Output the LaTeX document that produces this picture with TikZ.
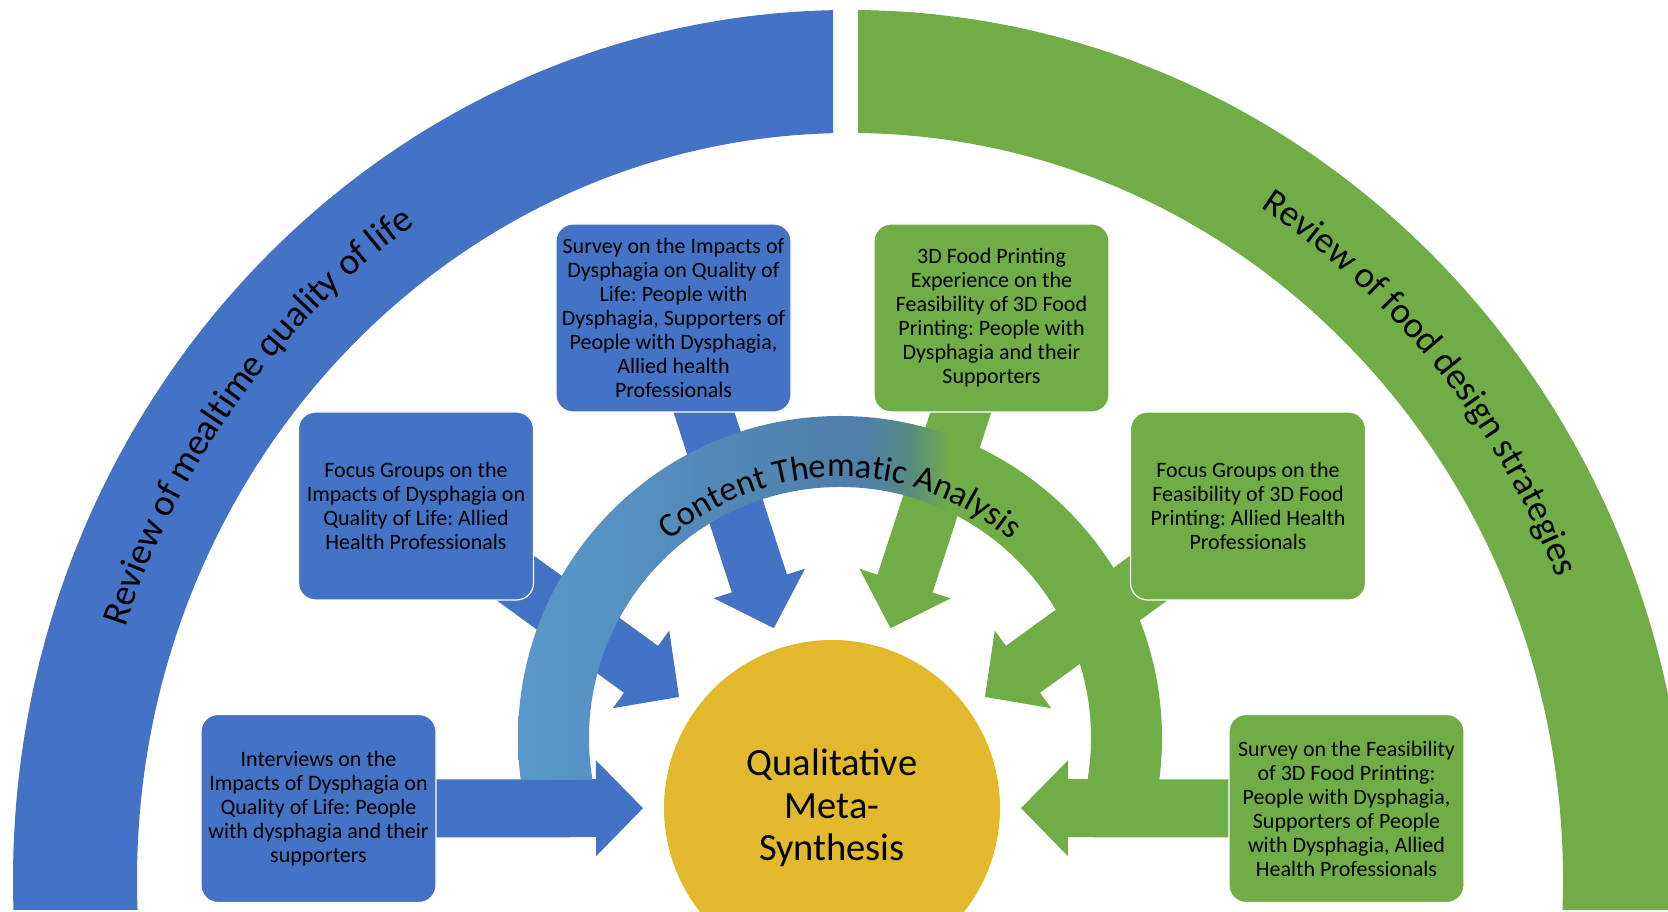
\documentclass[tikz,border=0pt]{standalone}
\usepackage{fontspec}
\setmainfont{Carlito}
\usetikzlibrary{calc,decorations.text}
\frenchspacing

\definecolor{accblue}{RGB}{68,114,196}
\definecolor{accgreen}{RGB}{112,173,71}
\definecolor{accgold}{RGB}{226,185,44}
\definecolor{ctaA}{RGB}{90,152,204}
\definecolor{ctaB}{RGB}{79,127,170}
\definecolor{ctaC}{RGB}{86,140,128}

% left-to-right colour run of the analysis band
\pgfdeclarehorizontalshading{ctashade}{100bp}{color(0bp)=(ctaA); color(25bp)=(ctaA); color(50bp)=(ctaB); color(52bp)=(ctaB); color(55.5bp)=(ctaC); color(58.5bp)=(accgreen); color(100bp)=(accgreen)}

\pgfdeclarelayer{back}
\pgfdeclarelayer{mid}
\pgfsetlayers{back,mid,main}

% block arrow from node #1 towards node #2, tip 189pt short of #2
\newcommand\blockarrow[3]{%
  \path ($(#2)!236pt!(#1)$) coordinate (hb) ($(#2)!189pt!(#1)$) coordinate (ht);
  \fill[#3] (ht) -- ($(hb)!48pt!90:(#2)$) -- ($(hb)!29pt!90:(#2)$)
    -- ($(#1)!29pt!90:(#2)$) -- ($(#1)!29pt!-90:(#2)$)
    -- ($(hb)!29pt!-90:(#2)$) -- ($(hb)!48pt!-90:(#2)$) -- cycle;}

\begin{document}
\begin{tikzpicture}[x=1pt,y=1pt,
  box/.style={rectangle, rounded corners=17pt, minimum width=235pt,
    minimum height=188pt, inner sep=0pt, draw=white, line width=1.2pt,
    align=center, font=\fontsize{22}{24}\selectfont},
  bluebox/.style={box, fill=accblue},
  greenbox/.style={box, fill=accgreen},
  bandtext/.style={decorate, decoration={text along path, text align=center, raise=#1}},
]
\useasboundingbox (0,0) rectangle (1668,912);

% centre and study boxes
\node[circle, fill=accgold, minimum size=336pt, inner sep=0pt, align=center,
  font=\fontsize{38.5}{42.5}\selectfont] (qms) at (832,104) {Qualitative\\Meta-\\Synthesis};

\node[bluebox] (svq) at (673.5,594) {Survey on the Impacts of\\Dysphagia on Quality of\\Life: People with\\Dysphagia, Supporters of\\People with Dysphagia,\\Allied health\\Professionals};
\node[bluebox] (fgq) at (416,406) {Focus Groups on the\\Impacts of Dysphagia on\\Quality of Life: Allied\\Health Professionals};
\node[bluebox] (ivq) at (318.5,103.5) {Interviews on the\\Impacts of Dysphagia on\\Quality of Life: People\\with dysphagia and their\\supporters};
\node[greenbox] (fpx) at (991.5,594) {3D Food Printing\\Experience on the\\Feasibility of 3D Food\\Printing: People with\\Dysphagia and their\\Supporters};
\node[greenbox] (fgf) at (1248,406) {Focus Groups on the\\Feasibility of 3D Food\\Printing: Allied Health\\Professionals};
\node[greenbox] (svf) at (1346.5,103.5) {Survey on the Feasibility\\of 3D Food Printing:\\People with Dysphagia,\\Supporters of People\\with Dysphagia, Allied\\Health Professionals};

\begin{pgfonlayer}{back}
  % outer review bands
  \begin{scope}
    \clip (0,2) rectangle (833,912);
    \fill[accblue, even odd rule] (850,32) ellipse [x radius=837pt, y radius=870pt]
      (850,32) ellipse [x radius=713pt, y radius=747pt];
  \end{scope}
  \begin{scope}
    \clip (858,2) rectangle (1668,912);
    \fill[accgreen, even odd rule] (850,32) ellipse [x radius=837pt, y radius=870pt]
      (850,32) ellipse [x radius=713pt, y radius=747pt];
  \end{scope}
  % arrows into the synthesis
  \blockarrow{svq}{qms}{accblue}
  \blockarrow{fgq}{qms}{accblue}
  \blockarrow{ivq}{qms}{accblue}
  \blockarrow{fpx}{qms}{accgreen}
  \blockarrow{fgf}{qms}{accgreen}
  \blockarrow{svf}{qms}{accgreen}
\end{pgfonlayer}

\begin{pgfonlayer}{mid}
  % analysis band
  \begin{scope}
    \clip (0,132) rectangle (1668,912);
    \shade[shading=ctashade, even odd rule] (840,174) circle[radius=322pt]
      (840,174) circle[radius=251pt];
  \end{scope}
\end{pgfonlayer}

% band captions
\path[bandtext=-11pt, decoration={text={|\fontsize{37.5}{42}\selectfont|Review of mealtime quality of life}}]
  (850,32) ++(172:775pt and 808pt) arc[start angle=172, end angle=114, x radius=775pt, y radius=808pt];
\path[bandtext=-11pt, decoration={text={|\fontsize{37}{42}\selectfont|Review of food design strategies}}]
  (850,32) ++(65:775pt and 808pt) arc[start angle=65, end angle=15, x radius=775pt, y radius=808pt];
\path[bandtext=0pt, decoration={text={|\fontsize{34.5}{40}\selectfont|Content Thematic Analysis}}]
  (840,174) ++(150:261pt) arc[start angle=150, end angle=30, radius=261pt];
\end{tikzpicture}
\end{document}
